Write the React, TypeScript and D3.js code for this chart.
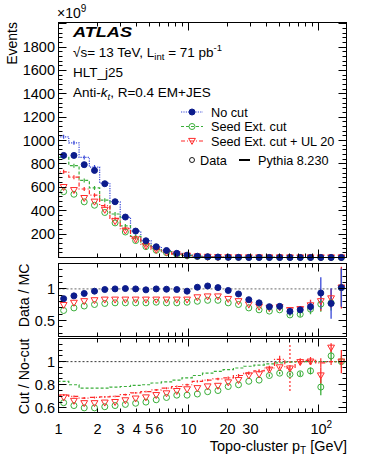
import React from 'react'
import * as d3 from 'd3'

// log bins, factor 1.2 per bin (GeV)
const binEdges = [1, 1.2, 1.44, 1.728, 2.074, 2.488, 2.986, 3.583, 4.3, 5.16, 6.192, 7.43, 8.916, 10.7, 12.84, 15.41, 18.49, 22.19, 26.62, 31.95, 38.34, 46.01, 55.21, 66.25, 79.5, 95.4, 114.5, 137.4, 164.8]

// Events (x10^9) - data
const dataNoCut = [873, 873, 794, 745, 631, 477, 346, 226, 143, 92, 60, 36, 20, 11, 6.2, 3.5, 2.0, 1.1, 0.6, 0.33, 0.18, 0.1, 0.06, 0.035, 0.02, 0.012, 0.007, 0.004]
const dataSeed = [563, 541, 476, 447, 385, 296, 218, 145, 93, 62, 41, 25.6, 14.2, 7.9, 4.6, 2.6, 1.57, 0.88, 0.5, 0.28, 0.16, 0.09, 0.05, 0.03, 0.018, 0.01, 0.006, 0.004]
const dataSeedUL = [602, 576, 508, 477, 407, 310, 230, 154, 99, 65, 43.5, 26.8, 15.2, 8.5, 4.9, 2.8, 1.64, 0.92, 0.53, 0.3, 0.17, 0.095, 0.056, 0.035, 0.02, 0.011, 0.007, 0.004]
// Events (x10^9) - Pythia 8.230
const mcNoCut = [1032, 981, 856, 773, 637, 477, 344, 226, 145, 92, 60, 36.4, 20.7, 10.7, 5.9, 3.4, 2.05, 1.2, 0.72, 0.42, 0.25, 0.14, 0.09, 0.05, 0.03, 0.015, 0.009, 0.004]
const mcSeed = [857, 785, 659, 595, 490, 372, 270, 180, 116, 75, 49.5, 30.6, 17.8, 9.4, 5.3, 3.1, 1.9, 1.13, 0.69, 0.41, 0.245, 0.14, 0.09, 0.05, 0.03, 0.015, 0.009, 0.004]
const mcSeedUL = [733, 687, 586, 533, 443, 334, 246, 165, 107, 69.5, 46, 28.6, 16.6, 8.9, 5.0, 2.9, 1.76, 1.06, 0.65, 0.39, 0.24, 0.14, 0.085, 0.05, 0.03, 0.015, 0.009, 0.004]

// Data / MC
const ratioNoCut = [0.846, 0.89, 0.928, 0.964, 0.99, 1.0, 1.005, 1.0, 0.985, 1.0, 0.995, 0.99, 0.964, 1.026, 1.046, 1.02, 0.975, 0.92, 0.83, 0.78, 0.72, 0.725, 0.646, 0.67, 0.72, 0.935, 0.77, 1.02]
const ratioSeed = [0.66, 0.70, 0.73, 0.754, 0.77, 0.78, 0.78, 0.78, 0.78, 0.79, 0.78, 0.78, 0.79, 0.805, 0.82, 0.82, 0.78, 0.754, 0.70, 0.67, 0.65, 0.67, 0.59, 0.60, 0.68, 0.76, 0.78, 1.02]
const ratioSeedUL = [0.745, 0.78, 0.805, 0.82, 0.83, 0.83, 0.83, 0.83, 0.83, 0.83, 0.83, 0.83, 0.83, 0.866, 0.88, 0.88, 0.84, 0.805, 0.754, 0.72, 0.70, 0.71, 0.665, 0.68, 0.74, 0.805, 0.85, 1.02]
const ratioErrNoCut = [0, 0, 0, 0, 0, 0, 0, 0, 0, 0, 0, 0, 0, 0, 0, 0, 0, 0, 0.006, 0.008, 0.01, 0.015, 0.02, 0.04, 0.08, 0.25, 0.24, 0.3]
const ratioErrSeed = [0, 0, 0, 0, 0, 0, 0, 0, 0, 0, 0, 0, 0, 0, 0, 0, 0, 0, 0.006, 0.008, 0.01, 0.015, 0.02, 0.04, 0.08, 0.12, 0.12, 0.3]
const ratioErrSeedUL = [0, 0, 0, 0, 0, 0, 0, 0, 0, 0, 0, 0, 0, 0, 0, 0, 0, 0, 0.006, 0.008, 0.01, 0.015, 0.02, 0.05, 0.09, 0.15, 0.15, 0.33]

// Cut / No-cut
const cutSeedData = [0.645, 0.62, 0.60, 0.60, 0.61, 0.62, 0.63, 0.64, 0.65, 0.67, 0.69, 0.71, 0.71, 0.72, 0.74, 0.75, 0.785, 0.80, 0.83, 0.84, 0.88, 0.90, 0.89, 0.895, 0.92, 0.78, 1.05, 1.0]
const cutSeedULData = [0.69, 0.66, 0.64, 0.64, 0.645, 0.65, 0.665, 0.68, 0.69, 0.71, 0.725, 0.745, 0.76, 0.77, 0.785, 0.79, 0.82, 0.84, 0.88, 0.89, 0.93, 0.95, 0.94, 0.995, 1.0, 0.88, 1.12, 1.0]
const cutSeedMC = [0.83, 0.80, 0.77, 0.77, 0.77, 0.78, 0.785, 0.795, 0.80, 0.815, 0.825, 0.84, 0.86, 0.88, 0.90, 0.915, 0.93, 0.945, 0.96, 0.97, 0.98, 0.99, 0.995, 1.0, 1.0, 1.0, 1.0, 1.0]
const cutSeedULMC = [0.71, 0.70, 0.685, 0.69, 0.695, 0.70, 0.715, 0.73, 0.74, 0.755, 0.77, 0.785, 0.80, 0.83, 0.84, 0.85, 0.86, 0.88, 0.90, 0.92, 0.945, 1.02, 0.945, 1.0, 1.01, 0.99, 1.0, 1.0]
const cutErrSeedULMC = [0.008, 0.008, 0.008, 0.008, 0.008, 0.008, 0.008, 0.008, 0.008, 0.008, 0.008, 0.008, 0.008, 0.01, 0.01, 0.01, 0.012, 0.012, 0.015, 0.015, 0.02, 0.03, 0.2, 0.03, 0.03, 0.04, 0.03, 0.03]
const cutErrSeedData = [0, 0, 0, 0, 0, 0, 0, 0, 0, 0, 0, 0, 0, 0, 0, 0, 0, 0, 0, 0, 0.01, 0.01, 0.015, 0.02, 0.03, 0.07, 0.04, 0.05]
const cutErrSeedULData = [0, 0, 0, 0, 0, 0, 0, 0, 0, 0, 0, 0, 0, 0, 0, 0, 0, 0, 0, 0, 0.01, 0.01, 0.015, 0.02, 0.03, 0.07, 0.04, 0.1]

const xTickLabels = [1, 2, 3, 4, 5, 6, 10, 20, 30, 100]
const yMainLabels = [200, 400, 600, 800, 1000, 1200, 1400, 1600, 1800]
const y1Labels = [0.5, 1]
const y2Labels = [0.6, 0.8, 1]

const font = 'Liberation Sans, Arial, Helvetica, sans-serif'
const blue = '#0c1c8c', blueLine = '#3848d8'
const green = '#3aae3a', red = '#ff2a2a'

const L = 58.5, R = 346.5
const mainTop = 22.5, mainBot = 257.5
const p1Top = 263.5, p1Bot = 336.5
const p2Top = 338.5, p2Bot = 412.5

const x = d3.scaleLog().domain([1, binEdges[binEdges.length - 1]]).range([L, R])
const yMain = d3.scaleLinear().domain([0, 2010]).range([mainBot, mainTop])
const y1 = d3.scaleLinear().domain([0.25, 1.4]).range([p1Bot, p1Top])
const y2 = d3.scaleLinear().domain([0.56, 1.2]).range([p2Bot, p2Top])

const centers = binEdges.slice(0, -1).map((e, i) => Math.sqrt(e * binEdges[i + 1]))

const xMinor: number[] = []
;[1, 10, 100].forEach(d => { for (let m = 1; m < 10; m++) if (d * m <= x.domain()[1]) xMinor.push(d * m) })

const stepPath = (vals: number[], y: any) => {
  const pts: [number, number][] = [[x(binEdges[0]), y(0)]]
  vals.forEach((v, i) => { pts.push([x(binEdges[i]), y(v)]); pts.push([x(binEdges[i + 1]), y(v)]) })
  return d3.line()(pts) as string
}

const Circle = ({cx, cy, color, filled}: any) => (
  <circle cx={cx} cy={cy} r={3} fill={filled ? color : 'none'} stroke={color} strokeWidth={1} />
)
const Tri = ({cx, cy, color}: any) => (
  <path d={`M${cx - 3.4},${cy - 2.6}L${cx + 3.4},${cy - 2.6}L${cx},${cy + 3.4}Z`} fill="none" stroke={color} strokeWidth={1} />
)

const Frame = ({top, bot, y, yMinor, yMajor}: any) => (
  <g stroke="#000" strokeWidth={1}>
    <rect x={L} y={top} width={R - L} height={bot - top} fill="none" />
    {yMinor.map((v: number, i: number) => {
      const len = yMajor.includes(v) ? 8 : 4
      const yy = Math.round(y(v) - 0.5) + 0.5
      return <g key={`ym${i}`}>
        <line x1={L} x2={L + len} y1={yy} y2={yy} />
        <line x1={R} x2={R - len} y1={yy} y2={yy} />
      </g>
    })}
    {xMinor.map((v, i) => {
      const len = [1, 10, 100].includes(v) ? 8 : 4
      const xx = Math.round(x(v) - 0.5) + 0.5
      return <g key={`xm${i}`}>
        <line x1={xx} x2={xx} y1={bot} y2={bot - len} />
        <line x1={xx} x2={xx} y1={top} y2={top + len} />
      </g>
    })}
  </g>
)

const mainMinor = d3.range(0, 2001, 40)
const p1Minor = d3.range(3, 15).map(v => v / 10)
const p2Minor = d3.range(12, 25).map(v => v / 20)

export default function App() {
  return (
    <svg width={366} height={474} style={{position: 'absolute', left: 0, top: 0, background: '#fff'}} fontFamily={font}>
      <defs>
        <clipPath id="cMain"><rect x={L} y={mainTop} width={R - L} height={mainBot - mainTop} /></clipPath>
        <clipPath id="c1"><rect x={L} y={p1Top} width={R - L} height={p1Bot - p1Top} /></clipPath>
        <clipPath id="c2"><rect x={L} y={p2Top} width={R - L} height={p2Bot - p2Top} /></clipPath>
      </defs>

      {/* main panel */}
      <g clipPath="url(#cMain)" fill="none" strokeWidth={1.2}>
        <path d={stepPath(mcNoCut, yMain)} stroke={blueLine} strokeDasharray="1.2,1.2" />
        <path d={stepPath(mcSeed, yMain)} stroke={green} strokeDasharray="3,2" />
        <path d={stepPath(mcSeedUL, yMain)} stroke={red} strokeDasharray="4,2,1,2" />
        {centers.map((c, i) => (
          <g key={`mce${i}`}>
            <line x1={x(c)} x2={x(c)} y1={yMain(mcNoCut[i]) - 2} y2={yMain(mcNoCut[i]) + 2} stroke={blueLine} />
            <line x1={x(c)} x2={x(c)} y1={yMain(mcSeed[i]) - 2} y2={yMain(mcSeed[i]) + 2} stroke={green} />
            <line x1={x(c)} x2={x(c)} y1={yMain(mcSeedUL[i]) - 2} y2={yMain(mcSeedUL[i]) + 2} stroke={red} />
          </g>
        ))}
      </g>
      {centers.map((c, i) => (
        <g key={`md${i}`}>
          <Circle cx={x(c)} cy={yMain(dataSeed[i])} color={green} />
          <Tri cx={x(c)} cy={yMain(dataSeedUL[i])} color={red} />
          <Circle cx={x(c)} cy={yMain(dataNoCut[i])} color={blue} filled />
        </g>
      ))}
      <Frame top={mainTop} bot={mainBot} y={yMain} yMinor={mainMinor} yMajor={d3.range(0, 2001, 200)} />
      {yMainLabels.map(v => (
        <text key={`yl${v}`} x={55} y={yMain(v) + 5} fontSize={14.5} textAnchor="end">{v}</text>
      ))}
      <text x={57} y={18} fontSize={14}>×10<tspan dy={-6} fontSize={10}>9</tspan></text>
      <text transform="translate(17,22) rotate(-90)" fontSize={14} textAnchor="end">Events</text>

      {/* labels */}
      <text x={73} y={37} fontSize={15} fontWeight="bold" fontStyle="italic" textLength={59} lengthAdjust="spacingAndGlyphs">ATLAS</text>
      <text x={73} y={57} fontSize={13.5}>√s= 13 TeV, L<tspan dy={3} fontSize={9.5}>int</tspan><tspan dy={-3}> = 71 pb</tspan><tspan dy={-6} fontSize={9.5}>-1</tspan></text>
      <text x={73} y={77} fontSize={13.5}>HLT_j25</text>
      <text x={73} y={97} fontSize={13.5}>Anti-<tspan fontStyle="italic">k</tspan><tspan dy={3} fontSize={9.5} fontStyle="italic">t</tspan><tspan dy={-3}>, R=0.4 EM+JES</tspan></text>

      {/* legend */}
      <g fontSize={12.7}>
        <line x1={181} x2={203} y1={112} y2={112} stroke={blueLine} strokeWidth={1.2} strokeDasharray="1.2,1.2" />
        <Circle cx={192} cy={112} color={blue} filled />
        <text x={211} y={116.5}>No cut</text>
        <line x1={181} x2={203} y1={126.5} y2={126.5} stroke={green} strokeWidth={1.2} strokeDasharray="3,2" />
        <Circle cx={192} cy={126.5} color={green} />
        <text x={211} y={131}>Seed Ext. cut</text>
        <line x1={181} x2={203} y1={141} y2={141} stroke={red} strokeWidth={1.2} strokeDasharray="4,2,1,2" />
        <Tri cx={192} cy={141} color={red} />
        <text x={211} y={145.5}>Seed Ext. cut + UL 20</text>
        <circle cx={192} cy={160} r={2.5} fill="none" stroke="#000" strokeWidth={0.9} />
        <text x={200} y={164.5}>Data</text>
        <line x1={239} x2={250} y1={160} y2={160} stroke="#000" strokeWidth={2} />
        <text x={258} y={164.5}>Pythia 8.230</text>
      </g>

      {/* Data / MC panel */}
      <line x1={L} x2={R} y1={y1(1)} y2={y1(1)} stroke="#888" strokeWidth={1.2} strokeDasharray="2,2" />
      <g clipPath="url(#c1)">
        {centers.map((c, i) => (
          <g key={`r1${i}`} strokeWidth={1.3}>
            <line x1={x(c)} x2={x(c)} y1={y1(ratioSeed[i] - ratioErrSeed[i])} y2={y1(ratioSeed[i] + ratioErrSeed[i])} stroke={green} />
            <line x1={x(c)} x2={x(c)} y1={y1(ratioSeedUL[i] - ratioErrSeedUL[i])} y2={y1(ratioSeedUL[i] + ratioErrSeedUL[i])} stroke={red} />
            <line x1={x(c)} x2={x(c)} y1={y1(ratioNoCut[i] - ratioErrNoCut[i])} y2={y1(ratioNoCut[i] + ratioErrNoCut[i])} stroke={blueLine} />
          </g>
        ))}
      </g>
      {centers.map((c, i) => (
        <g key={`r1m${i}`}>
          <Circle cx={x(c)} cy={y1(ratioSeed[i])} color={green} />
          <Tri cx={x(c)} cy={y1(ratioSeedUL[i])} color={red} />
          <Circle cx={x(c)} cy={y1(ratioNoCut[i])} color={blue} filled />
        </g>
      ))}
      <Frame top={p1Top} bot={p1Bot} y={y1} yMinor={p1Minor} yMajor={[0.5, 1]} />
      {y1Labels.map(v => (
        <text key={`y1${v}`} x={55} y={y1(v) + 5} fontSize={14.5} textAnchor="end">{v}</text>
      ))}
      <text transform={`translate(29,${p1Top}) rotate(-90)`} fontSize={14.2} textAnchor="end">Data / MC</text>

      {/* Cut / No-cut panel */}
      <line x1={L} x2={R} y1={y2(1)} y2={y2(1)} stroke="#000" strokeWidth={0.8} strokeDasharray="2,2" />
      <g clipPath="url(#c2)" fill="none" strokeWidth={1.2}>
        <path d={stepPath(cutSeedMC, y2)} stroke={green} strokeDasharray="3,2" />
        <path d={stepPath(cutSeedULMC, y2)} stroke={red} strokeDasharray="4,2,1,2" />
        {centers.map((c, i) => (
          <g key={`r2e${i}`}>
            <line x1={x(c)} x2={x(c)} y1={y2(cutSeedULMC[i] - cutErrSeedULMC[i])} y2={y2(cutSeedULMC[i] + cutErrSeedULMC[i])} stroke={red} strokeDasharray={cutErrSeedULMC[i] > 0.1 ? '2,2' : undefined} />
            <line x1={x(c)} x2={x(c)} y1={y2(cutSeedData[i] - cutErrSeedData[i])} y2={y2(cutSeedData[i] + cutErrSeedData[i])} stroke={green} strokeWidth={1.3} />
            <line x1={x(c)} x2={x(c)} y1={y2(cutSeedULData[i] - cutErrSeedULData[i])} y2={y2(cutSeedULData[i] + cutErrSeedULData[i])} stroke={red} strokeWidth={1.3} />
          </g>
        ))}
      </g>
      {centers.map((c, i) => (
        <g key={`r2m${i}`}>
          <Circle cx={x(c)} cy={y2(cutSeedData[i])} color={green} />
          <Tri cx={x(c)} cy={y2(cutSeedULData[i])} color={red} />
        </g>
      ))}
      <Frame top={p2Top} bot={p2Bot} y={y2} yMinor={p2Minor} yMajor={[0.6, 0.8, 1, 1.2]} />
      {y2Labels.map(v => (
        <text key={`y2${v}`} x={55} y={y2(v) + 5} fontSize={14.5} textAnchor="end">{v}</text>
      ))}
      <text transform={`translate(29,${p2Top}) rotate(-90)`} fontSize={14.2} textAnchor="end">Cut / No-cut</text>

      {/* x axis labels */}
      {xTickLabels.map(v => (
        v === 100
          ? <text key={`xl${v}`} x={x(v) + 3} y={434} fontSize={14.5} textAnchor="middle">10<tspan dy={-6} fontSize={10}>2</tspan></text>
          : <text key={`xl${v}`} x={x(v)} y={434} fontSize={14.5} textAnchor="middle">{v}</text>
      ))}
      <text x={347} y={451} fontSize={14.4} textAnchor="end">Topo-cluster p<tspan dy={3} fontSize={10}>T</tspan><tspan dy={-3}> [GeV]</tspan></text>
    </svg>
  )
}
